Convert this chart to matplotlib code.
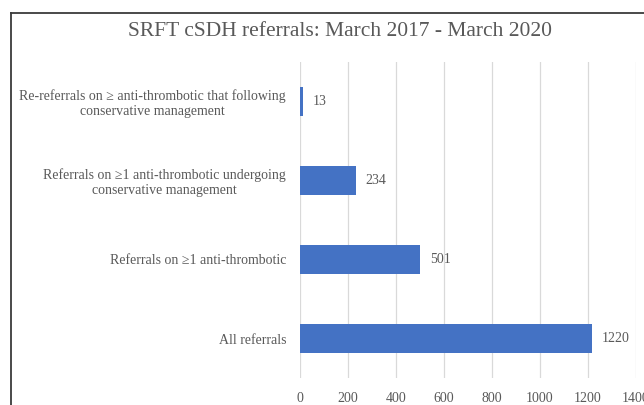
import matplotlib
matplotlib.use("Agg")
import matplotlib.pyplot as plt
from matplotlib.lines import Line2D

categories = [
    "All referrals",
    "Referrals on \u22651 anti-thrombotic",
    "Referrals on \u22651 anti-thrombotic undergoing\nconservative management",
    "Re-referrals on \u2265 anti-thrombotic that following\nconservative management",
]
values = [1220, 501, 234, 13]
xticks = [0, 200, 400, 600, 800, 1000, 1200, 1400]
title = "SRFT cSDH referrals: March 2017 - March 2020"

plt.rcParams['font.family'] = ['Liberation Serif', 'DejaVu Serif']
gray = "#595959"

fig = plt.figure(figsize=(6.44, 4.05), dpi=100)
ax = fig.add_axes([300/644, 1 - 378/405, 335.5/644, 316/405])

ypos = list(range(len(categories)))
ax.barh(ypos, values, height=0.355, color="#4472C4", zorder=3)
for y, v in zip(ypos, values):
    ax.text(v + 40, y, str(v), va="center", ha="left", fontsize=10, color=gray)

ax.set_xlim(0, 1400)
ax.set_ylim(-0.5, len(categories) - 0.5)
ax.set_xticks(xticks)
ax.set_xticklabels([str(t) for t in xticks], fontsize=10, color=gray)
ax.set_yticks(ypos)
ax.set_yticklabels(categories, fontsize=10, color=gray, multialignment="center")
ax.tick_params(axis="both", length=0)
ax.tick_params(axis="x", pad=10)
ax.tick_params(axis="y", pad=10)
ax.grid(axis="x", color="#d9d9d9", linewidth=0.9, zorder=0)
for s in ax.spines.values():
    s.set_visible(False)

fig.text(340/644, 1 - 32/405, title, ha="center", va="center", fontsize=15.5, color=gray)

fig.add_artist(Line2D([11/644, 1.0], [1 - 13/405, 1 - 13/405], color="#3a3a3a", linewidth=1.3, transform=fig.transFigure))
fig.add_artist(Line2D([11/644, 11/644], [1 - 13/405, 0.0], color="#3a3a3a", linewidth=1.3, transform=fig.transFigure))

fig.savefig("out.png", dpi=100)
